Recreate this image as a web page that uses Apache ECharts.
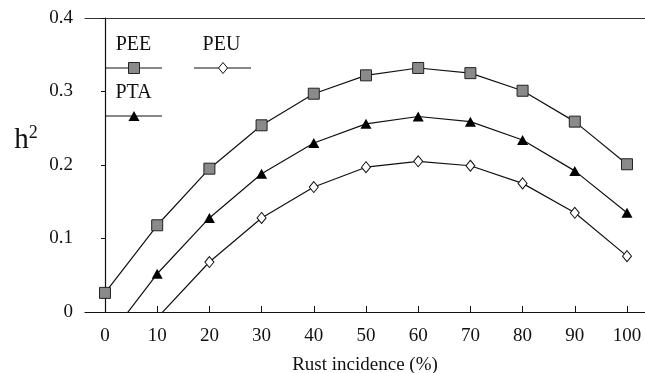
<!DOCTYPE html>
<html>
<head>
<meta charset="utf-8">
<script src="https://cdn.jsdelivr.net/npm/echarts@6/dist/echarts.min.js"></script>
<style>html,body{margin:0;padding:0;background:#fff;} #chart{width:645px;height:373px;}</style>
</head>
<body>
<div id="chart"></div>
<script>
// rust incidence (%)
var incidence = [0, 10, 20, 30, 40, 50, 60, 70, 80, 90, 100];
var xTicks = [0, 10, 20, 30, 40, 50, 60, 70, 80, 90, 100];
// heritability per selection method
var pee = [0.026, 0.118, 0.195, 0.254, 0.297, 0.322, 0.332, 0.325, 0.301, 0.259, 0.201];
var pta = [-0.041, 0.052, 0.128, 0.188, 0.230, 0.256, 0.266, 0.259, 0.234, 0.192, 0.135];
var peu = [null, -0.008, 0.068, 0.128, 0.170, 0.197, 0.205, 0.199, 0.175, 0.135, 0.076];

var font = '"Liberation Serif", "DejaVu Serif", serif';

function pairs(vals) {
    var out = [];
    for (var i = 0; i < incidence.length; i++) {
        if (vals[i] !== null) out.push([incidence[i], vals[i]]);
    }
    return out;
}

var chart = echarts.init(document.getElementById('chart'), null, { renderer: 'canvas' });

var lineStyle = { color: '#111', width: 1.2 };

// legend drawn by hand: name above a short line with its marker
function legendText(x, y, name) {
    return { type: 'text', style: { x: x, y: y, text: name, font: '20px ' + font, fill: '#111', align: 'center', verticalAlign: 'middle' } };
}
function legendLine(x1, x2, y) {
    return { type: 'line', shape: { x1: x1, y1: y, x2: x2, y2: y }, style: { stroke: '#111', lineWidth: 1.2 } };
}

var option = {
    animation: false,
    backgroundColor: '#fff',
    grid: { left: 85, top: 18, right: 0, bottom: 61, outerBoundsMode: 'none', containLabel: false },
    xAxis: [{
        type: 'value',
        min: -3.83,
        max: 103.45,
        name: 'Rust incidence (%)',
        nameLocation: 'middle',
        nameGap: 44,
        nameTextStyle: { fontFamily: font, fontSize: 19, color: '#111' },
        axisLine: { show: true, lineStyle: { color: '#111', width: 1.2 } },
        axisTick: { show: true, inside: true, length: 6, lineStyle: { color: '#111' }, customValues: xTicks },
        axisLabel: { fontFamily: font, fontSize: 19, color: '#111', margin: 15, customValues: xTicks },
        splitLine: { show: false }
    }, {
        type: 'value',
        position: 'top',
        min: -3.83,
        max: 103.45,
        axisLine: { show: true, lineStyle: { color: '#333', width: 1 } },
        axisTick: { show: false },
        axisLabel: { show: false },
        splitLine: { show: false }
    }],
    yAxis: {
        type: 'value',
        min: 0,
        max: 0.4,
        interval: 0.1,
        axisLine: { show: true, lineStyle: { color: '#111', width: 1.2 } },
        axisTick: { show: true, inside: false, length: 4, lineStyle: { color: '#111' } },
        axisLabel: {
            fontFamily: font, fontSize: 19, color: '#111', margin: 12,
            formatter: function (v) { return v === 0 ? '0' : v.toFixed(1); }
        },
        splitLine: { show: false }
    },
    series: [{
        name: 'PEE',
        type: 'line',
        data: pairs(pee),
        clip: true,
        symbol: 'rect',
        symbolSize: 11,
        itemStyle: { color: '#8a8a8a', borderColor: '#222', borderWidth: 1 },
        lineStyle: lineStyle
    }, {
        name: 'PTA',
        type: 'line',
        data: pairs(pta),
        clip: true,
        symbol: 'triangle',
        symbolSize: [11, 10],
        itemStyle: { color: '#000' },
        lineStyle: lineStyle
    }, {
        name: 'PEU',
        type: 'line',
        data: pairs(peu),
        clip: true,
        symbol: 'diamond',
        symbolSize: [9, 11],
        itemStyle: { color: '#fff', borderColor: '#111', borderWidth: 1 },
        lineStyle: lineStyle
    }],
    graphic: [
        // y axis title h² with a real superscript
        {
            type: 'text',
            style: {
                x: 26, y: 140, align: 'center', verticalAlign: 'middle',
                text: '{h|h}{s|2}',
                fill: '#111',
                rich: {
                    h: { fontFamily: font, fontSize: 29, fill: '#111' },
                    s: { fontFamily: font, fontSize: 18, fill: '#111', padding: [0, 0, 14, 0] }
                }
            }
        },
        legendText(133.5, 45, 'PEE'),
        legendText(221.5, 45, 'PEU'),
        legendText(133.5, 93, 'PTA'),
        legendLine(106, 162, 68),
        legendLine(194, 251, 68),
        legendLine(106, 162, 116),
        { type: 'rect', shape: { x: 128.5, y: 62.5, width: 11, height: 11 }, style: { fill: '#8a8a8a', stroke: '#222', lineWidth: 1 } },
        { type: 'polygon', shape: { points: [[223, 62.5], [227.5, 68], [223, 73.5], [218.5, 68]] }, style: { fill: '#fff', stroke: '#111', lineWidth: 1 } },
        { type: 'polygon', shape: { points: [[134, 111], [139.5, 121], [128.5, 121]] }, style: { fill: '#000' } }
    ]
};

chart.setOption(option);
</script>
</body>
</html>
